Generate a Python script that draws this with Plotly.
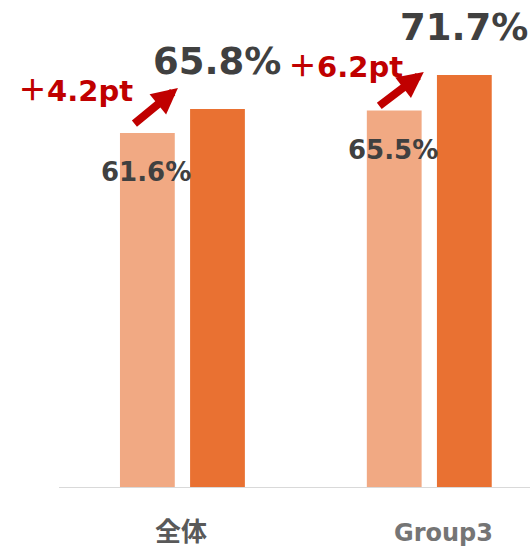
import plotly.graph_objects as go

categories = ["全体", "Group3"]
before_values = [61.6, 65.5]
after_values = [65.8, 71.7]

LIGHT = "#F1A983"
DARK = "#E97132"
TEXT_DARK = "#404040"
RED = "#C00000"
FONT = "DejaVu Sans, Noto Sans CJK JP, sans-serif"
CJK_FONT = "Noto Sans CJK JP, DejaVu Sans, sans-serif"

x_idx = list(range(len(categories)))
bar_w = 0.222

fig = go.Figure()
fig.add_trace(go.Bar(x=x_idx, y=before_values, width=bar_w, offset=-0.253,
                     marker=dict(color=LIGHT, line=dict(width=0)), showlegend=False,
                     hoverinfo="skip"))
fig.add_trace(go.Bar(x=x_idx, y=after_values, width=bar_w, offset=0.031,
                     marker=dict(color=DARK, line=dict(width=0)), showlegend=False,
                     hoverinfo="skip"))

annotations = []
# value labels for "before" bars
for i, v in enumerate(before_values):
    annotations.append(dict(x=i, y=v, xref="x", yref="y", text=f"{v:.1f}%",
                            showarrow=False, xshift=-36, yshift=-39,
                            xanchor="center", yanchor="middle",
                            font=dict(family=FONT, size=26, color=TEXT_DARK, weight="bold")))
# value labels for "after" bars
for i, v in enumerate(after_values):
    annotations.append(dict(x=i, y=v, xref="x", yref="y", text=f"{v:.1f}%",
                            showarrow=False, xshift=35, yshift=47,
                            xanchor="center", yanchor="middle",
                            font=dict(family=FONT, size=37, color=TEXT_DARK, weight="bold")))

# arrows and delta labels
arrow_cfg = [dict(xshift=-4.5, yshift=21, ax=-45, ay=37, tx=-107, ty=21),
             dict(xshift=-5.5, yshift=3, ax=-46, ay=35, tx=-83.5, ty=11)]
for i, (b, a) in enumerate(zip(before_values, after_values)):
    c = arrow_cfg[i]
    annotations.append(dict(x=i, y=a, xref="x", yref="y", text="",
                            showarrow=True, arrowhead=2, arrowwidth=8, arrowsize=0.65,
                            arrowcolor=RED, standoff=0,
                            ax=c["ax"], ay=c["ay"], axref="pixel", ayref="pixel",
                            xshift=c["xshift"], yshift=c["yshift"]))
    annotations.append(dict(x=i, y=a, xref="x", yref="y",
                            text=f"<span style='font-family:Noto Sans CJK JP'>＋</span>{a - b:.1f}pt",
                            showarrow=False, xshift=c["tx"], yshift=c["ty"],
                            xanchor="center", yanchor="middle",
                            font=dict(family=FONT, size=29, color=RED, weight="bold")))

# category labels
cat_colors = ["#595959", "#757575"]
cat_xshift = [-1, 14]
cat_sizes = [26, 24]
cat_yshift = [-42, -46]
cat_fonts = [CJK_FONT, FONT]
for i, c in enumerate(categories):
    annotations.append(dict(x=i, y=0, xref="x", yref="y", text=c, showarrow=False,
                            xshift=cat_xshift[i], yshift=cat_yshift[i], borderpad=0,
                            xanchor="center", yanchor="middle",
                            font=dict(family=cat_fonts[i], size=cat_sizes[i], color=cat_colors[i],
                                      weight="bold")))

fig.update_layout(
    width=530, height=549,
    margin=dict(l=59, r=0, t=0, b=62, pad=0),
    paper_bgcolor="white", plot_bgcolor="white",
    barmode="overlay",
    xaxis=dict(range=[-0.5, 1.408], showline=True, linecolor="#D9D9D9", linewidth=1,
               showgrid=False, zeroline=False, showticklabels=False, ticks="",
               fixedrange=True),
    yaxis=dict(range=[0, 84.75], showgrid=False, zeroline=False, showticklabels=False,
               showline=False, ticks="", fixedrange=True),
    annotations=annotations,
)

fig.write_html("out.html", config={"displayModeBar": False},
               post_script="document.body.style.margin='0';document.body.style.overflow='hidden';")
